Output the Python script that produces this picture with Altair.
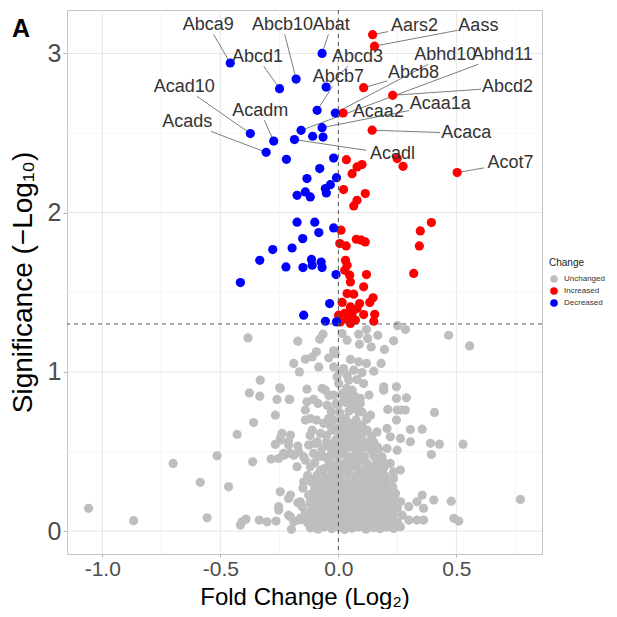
import altair as alt
import pandas as pd

# ---------------- data (Fold change log2, -log10 p) ----------------
gray_sparse = [
    (-0.383, 1.213), (-0.172, 1.193), (-0.189, 1.053), (-0.165, 1.0), (-0.14, 1.08), (-0.331, 0.948),
    (-0.377, 0.868), (-0.333, 0.847), (-0.249, 0.9), (-0.26, 0.827), (-0.208, 0.827), (-0.133, 0.891),
    (-0.133, 0.812), (-0.267, 0.728), (-0.359, 0.682), (-0.14, 0.697), (-0.429, 0.607), (-0.246, 0.582),
    (-0.267, 0.544), (-0.203, 0.603), (-0.172, 0.534), (-0.211, 0.561), (-0.514, 0.473), (-0.70, 0.425),
    (-0.363, 0.435), (-0.285, 0.452), (-0.253, 0.456), (-0.229, 0.477), (-0.203, 0.488), (-0.168, 0.498),
    (-0.14, 0.446), (-0.175, 0.404), (-0.585, 0.306), (-0.465, 0.278), (-0.147, 0.309), (-0.126, 0.226),
    (-0.211, 0.205), (-0.172, 0.178), (-0.154, 0.153), (-0.253, 0.153), (-0.253, 0.132), (-1.058, 0.143),
    (-0.867, 0.065), (-0.556, 0.083), (-0.415, 0.038), (-0.408, 0.058), (-0.391, 0.075), (-0.335, 0.069),
    (-0.302, 0.058), (-0.264, 0.063), (-0.203, 0.09), (-0.189, 0.058), (-0.168, 0.069), (-0.199, 0.011),
    (-0.154, 0.073),
]

gray_right = [
    (0.251, 1.29), (0.284, 1.266), (0.467, 1.23), (0.556, 1.163), (-0.079, 1.205), (-0.065, 1.237),
    (0.016, 1.241), (0.037, 1.199), (0.086, 1.237), (0.119, 1.266), (0.124, 1.21), (0.167, 1.23),
    (0.234, 1.195), (0.089, 1.174), (0.139, 1.157), (0.195, 1.141), (-0.02, 1.132), (-0.013, 1.115),
    (-0.093, 1.126), (-0.111, 1.094), (-0.041, 1.088), (-0.083, 1.031), (-0.02, 1.031), (0.051, 1.078),
    (0.086, 1.063), (0.119, 1.053), (0.181, 1.053), (0.022, 1.021), (0.037, 0.979), (0.065, 1.011),
    (-0.006, 0.969), (0.001, 0.927), (0.044, 0.948), (0.079, 0.952), (0.107, 0.927), (0.034, 0.896),
    (0.058, 0.885), (0.192, 0.906), (0.192, 0.885), (0.246, 0.906), (-0.246, 0.896), (-0.069, 0.896),
    (-0.055, 0.885), (-0.206, 0.827), (-0.105, 0.827), (-0.086, 0.802), (-0.048, 0.791), (-0.02, 0.854),
    (0.016, 0.864), (0.051, 0.854), (0.022, 0.822), (0.093, 0.833), (0.093, 0.802), (0.246, 0.833),
    (0.288, 0.837), (0.065, 0.77), (0.086, 0.749), (0.209, 0.764), (0.249, 0.76), (0.266, 0.76),
    (0.284, 0.76), (0.407, 0.745), (0.136, 0.728), (0.246, 0.697), (-0.119, 0.707), (-0.093, 0.697),
    (-0.062, 0.676), (-0.041, 0.707), (0.016, 0.676), (0.051, 0.676), (0.1, 0.665), (0.305, 0.638),
    (0.355, 0.64), (-0.239, 0.613), (-0.111, 0.634), (-0.076, 0.613), (-0.027, 0.634), (0.037, 0.634),
    (0.079, 0.613), (0.122, 0.634), (0.164, 0.623), (0.206, 0.645), (0.22, 0.592), (0.263, 0.582),
    (0.305, 0.561), (0.39, 0.551), (0.428, 0.546), (0.528, 0.546), (0.394, 0.481), (-0.246, 0.571),
    (-0.211, 0.54), (-0.126, 0.54), (-0.09, 0.561), (-0.048, 0.54), (-0.013, 0.571), (0.037, 0.571),
    (0.079, 0.551), (0.122, 0.529), (0.164, 0.529), (0.206, 0.519), (0.249, 0.508), (-0.232, 0.488),
    (-0.189, 0.477), (-0.147, 0.467), (-0.105, 0.488), (-0.062, 0.467), (-0.02, 0.477), (0.022, 0.488),
    (0.065, 0.467), (0.107, 0.467), (0.143, 0.498), (0.178, 0.456), (0.22, 0.425), (0.263, 0.383),
    (-0.119, 0.404), (-0.076, 0.383), (-0.034, 0.394), (0.022, 0.383), (0.065, 0.404), (0.107, 0.383),
    (0.15, 0.404), (0.192, 0.394), (0.234, 0.372), (-0.105, 0.32), (-0.062, 0.299), (-0.02, 0.32),
    (0.022, 0.299), (0.065, 0.309), (0.107, 0.299), (0.15, 0.32), (0.192, 0.309), (0.234, 0.331),
    (-0.246, 0.247), (-0.203, 0.226), (-0.161, 0.184), (-0.119, 0.215), (-0.076, 0.247), (-0.034, 0.237),
    (0.022, 0.237), (0.065, 0.247), (0.107, 0.226), (0.15, 0.258), (0.178, 0.341), (0.206, 0.278),
    (0.242, 0.237), (0.355, 0.226), (0.404, 0.195), (0.478, 0.188), (0.771, 0.199), (0.263, 0.184),
    (0.298, 0.153), (0.333, 0.184), (0.361, 0.143), (-0.211, 0.1), (-0.161, 0.08), (0.489, 0.08),
    (0.51, 0.063), (0.298, 0.069), (0.333, 0.069), (0.361, 0.069), (0.263, 0.027), (0.234, 0.017),
]

gray_blob = [
    (-0.118, 0.02), (-0.087, 0.012), (-0.061, 0.025), (-0.028, 0.015), (0.004, 0.022), (0.027, 0.01),
    (0.058, 0.018), (0.086, 0.026), (0.117, 0.012), (0.149, 0.021), (0.176, 0.015), (0.205, 0.024),
    (-0.105, 0.058), (-0.072, 0.05), (-0.045, 0.062), (-0.012, 0.052), (0.018, 0.06), (0.045, 0.048),
    (0.073, 0.057), (0.102, 0.064), (0.133, 0.05), (0.162, 0.059), (0.19, 0.053), (0.222, 0.061),
    (0.25, 0.055), (-0.125, 0.1), (-0.095, 0.108), (-0.063, 0.096), (-0.035, 0.104), (-0.005, 0.098),
    (0.028, 0.107), (0.055, 0.095), (0.085, 0.102), (0.115, 0.11), (0.143, 0.097), (0.17, 0.105),
    (0.201, 0.099), (0.235, 0.108), (0.27, 0.1), (-0.11, 0.152), (-0.08, 0.145), (-0.05, 0.156),
    (-0.02, 0.148), (0.012, 0.153), (0.04, 0.144), (0.068, 0.157), (0.097, 0.149), (0.128, 0.155),
    (0.156, 0.146), (0.185, 0.152), (0.215, 0.158), (0.25, 0.147), (-0.092, 0.198), (-0.06, 0.205),
    (-0.03, 0.196), (0.0, 0.203), (0.033, 0.194), (0.062, 0.201), (0.09, 0.208), (0.12, 0.197),
    (0.152, 0.204), (0.181, 0.195), (0.21, 0.2), (0.24, 0.206), (-0.1, 0.27), (-0.07, 0.262),
    (-0.04, 0.275), (-0.008, 0.266), (0.025, 0.272), (0.052, 0.263), (0.08, 0.277), (0.11, 0.268),
    (0.14, 0.274), (0.17, 0.265), (0.2, 0.271), (0.23, 0.279), (-0.09, 0.352), (-0.058, 0.345),
    (-0.025, 0.356), (0.005, 0.348), (0.038, 0.354), (0.07, 0.344), (0.1, 0.357), (0.13, 0.349),
    (0.165, 0.355), (0.2, 0.346), (-0.1, 0.43), (-0.04, 0.435), (-0.005, 0.426), (0.03, 0.432),
    (0.06, 0.424), (0.09, 0.437), (0.12, 0.428), (0.16, 0.434), (0.195, 0.427), (-0.07, 0.52),
    (-0.03, 0.514), (0.0, 0.525), (0.03, 0.517), (0.06, 0.523), (0.095, 0.512), (0.13, 0.521),
    (0.17, 0.516), (-0.05, 0.6), (0.0, 0.594), (0.02, 0.606), (0.055, 0.598), (0.1, 0.603),
    (0.14, 0.595), (-0.02, 0.7), (0.01, 0.694), (0.03, 0.706), (0.075, 0.698), (0.12, 0.703),
    (-0.01, 0.8), (0.0, 0.794), (0.035, 0.806), (0.06, 0.797), (-0.14, 0.76), (-0.12, 0.6),
    (-0.1, 0.55), (-0.13, 0.35), (-0.15, 0.27), (-0.14, 0.12), (-0.13, 0.05),
]

gray_blob_fill = [
    (-0.11, 0.082), (-0.078, 0.076), (-0.05, 0.085), (-0.02, 0.079), (0.01, 0.084), (0.04, 0.077),
    (0.07, 0.083), (0.1, 0.081), (0.13, 0.078), (0.16, 0.086), (0.19, 0.08), (0.22, 0.084),
    (-0.1, 0.127), (-0.07, 0.122), (-0.04, 0.13), (-0.01, 0.124), (0.02, 0.128), (0.05, 0.121),
    (0.08, 0.129), (0.11, 0.125), (0.14, 0.122), (0.17, 0.13), (0.2, 0.126), (0.23, 0.121),
    (-0.12, 0.176), (-0.075, 0.172), (-0.045, 0.179), (-0.015, 0.174), (0.02, 0.178), (0.05, 0.171),
    (0.08, 0.177), (0.11, 0.174), (0.14, 0.18), (0.17, 0.173), (0.2, 0.177), (0.23, 0.172),
    (-0.11, 0.236), (-0.078, 0.232), (-0.045, 0.239), (-0.015, 0.233), (0.015, 0.237), (0.045, 0.231),
    (0.075, 0.238), (0.105, 0.234), (0.135, 0.24), (0.165, 0.232), (0.195, 0.236), (0.225, 0.233),
    (-0.115, 0.31), (-0.08, 0.306), (-0.05, 0.313), (-0.02, 0.307), (0.01, 0.312), (0.04, 0.305),
    (0.07, 0.311), (0.1, 0.308), (0.13, 0.314), (0.165, 0.306), (0.2, 0.31),
    (-0.06, 0.392), (-0.02, 0.386), (0.01, 0.393), (0.045, 0.388), (0.08, 0.394), (0.115, 0.387),
    (0.15, 0.391), (0.18, 0.386), (-0.08, 0.471), (-0.04, 0.466), (0.0, 0.473), (0.04, 0.468),
    (0.075, 0.474), (0.11, 0.467), (0.15, 0.471), (0.185, 0.466), (-0.05, 0.561), (-0.015, 0.556),
    (0.015, 0.563), (0.045, 0.557), (0.08, 0.562), (0.115, 0.555), (0.15, 0.56), (-0.03, 0.652),
    (0.0, 0.647), (0.03, 0.654), (0.07, 0.648), (0.1, 0.653), (-0.03, 0.752), (0.005, 0.746),
    (0.045, 0.754), (0.1, 0.748), (-0.04, 0.852), (0.07, 0.846), (0.13, 0.854), (0.005, 1.002),
    (0.1, 0.996), (0.15, 1.004),
]

increased = [
    (0.145, 3.118), (0.153, 3.046), (0.107, 2.785), (0.23, 2.737), (0.02, 2.626), (0.143, 2.518),
    (0.034, 2.333), (0.1, 2.302), (0.079, 2.287), (0.058, 2.245), (0.249, 2.34), (0.274, 2.291),
    (0.503, 2.252), (0.022, 2.145), (0.114, 2.12), (0.079, 2.078), (0.065, 2.042), (0.394, 1.938),
    (0.347, 1.885), (0.343, 1.791), (0.319, 1.618), (0.011, 1.89), (0.076, 1.833), (0.097, 1.827),
    (0.114, 1.816), (0.006, 1.806), (0.033, 1.791), (0.03, 1.701), (0.037, 1.67), (0.027, 1.638),
    (0.048, 1.607), (0.051, 1.565), (0.119, 1.611), (0.107, 1.534), (0.037, 1.492), (0.065, 1.488),
    (0.147, 1.465), (0.133, 1.436), (0.016, 1.436), (0.09, 1.429), (0.051, 1.408), (0.079, 1.398),
    (0.027, 1.367), (0.058, 1.367), (0.001, 1.356), (0.107, 1.36), (0.154, 1.362), (0.037, 1.329),
    (0.072, 1.325), (0.15, 1.318), (0.008, 1.314), (0.051, 1.304),
]

decreased = [
    (-0.458, 2.94), (-0.069, 3.0), (-0.249, 2.779), (-0.179, 2.839), (-0.052, 2.789), (-0.09, 2.643),
    (-0.013, 2.626), (-0.373, 2.497), (-0.274, 2.45), (-0.306, 2.379), (-0.158, 2.517), (-0.186, 2.459),
    (-0.109, 2.48), (-0.069, 2.534), (-0.065, 2.475), (-0.22, 2.335), (-0.02, 2.343), (-0.079, 2.277),
    (-0.133, 2.214), (-0.008, 2.22), (-0.034, 2.176), (-0.055, 2.151), (-0.175, 2.109), (-0.14, 2.13),
    (-0.119, 2.099), (-0.051, 2.124), (-0.175, 1.94), (-0.1, 1.94), (-0.02, 1.904), (-0.083, 1.875),
    (-0.151, 1.837), (-0.196, 1.778), (-0.278, 1.768), (-0.333, 1.701), (-0.222, 1.659), (-0.15, 1.655),
    (-0.114, 1.706), (-0.111, 1.67), (-0.073, 1.69), (-0.069, 1.655), (-0.01, 1.611), (-0.037, 1.429),
    (-0.147, 1.356), (-0.055, 1.318), (-0.008, 1.314), (-0.415, 1.561),
]

genes = ["Abca9", "Abcb10", "Abat", "Aars2", "Aass", "Abcd1", "Abcd3", "Abhd10", "Abhd11", "Abcb7",
         "Abcb8", "Acad10", "Abcd2", "Acaa1a", "Acadm", "Acaa2", "Acads", "Acaca", "Acadl", "Acot7"]
gene_fc = [-0.458, -0.179, -0.069, 0.145, 0.153, -0.249, -0.052, -0.013, -0.158, -0.09,
           0.107, -0.373, 0.23, -0.069, -0.274, 0.02, -0.306, 0.143, -0.186, 0.503]
gene_sig = [2.94, 2.839, 3.0, 3.118, 3.046, 2.779, 2.789, 2.626, 2.517, 2.643,
            2.785, 2.497, 2.737, 2.534, 2.45, 2.626, 2.379, 2.518, 2.459, 2.252]
label_fc = [-0.551, -0.237, -0.03, 0.322, 0.593, -0.343, 0.081, 0.453, 0.695, 0.0,
            0.318, -0.653, 0.716, 0.432, -0.331, 0.169, -0.64, 0.542, 0.229, 0.729]
label_sig = [3.176, 3.176, 3.176, 3.17, 3.17, 2.976, 2.976, 2.988, 2.988, 2.85,
             2.875, 2.787, 2.787, 2.68, 2.637, 2.63, 2.567, 2.498, 2.367, 2.31]

grid_major_x = [-1.0, -0.5, 0.0, 0.5]
grid_minor_x = [-0.75, -0.25, 0.25, 0.75]
grid_major_y = [0, 1, 2, 3]
grid_minor_y = [0.5, 1.5, 2.5]
sig_threshold = 1.30103
fc_threshold = 0.0

# ---------------- layout ----------------
X_DOM = [-1.1495, 0.8625]
Y_DOM = [-0.144, 3.273]
W, H = 475, 544
FONT = "Liberation Sans"
LABEL_SIZE = 18

rows = []
for x, y in gray_sparse + gray_right + gray_blob + gray_blob_fill:
    rows.append({"fc": x, "sig": y, "Change": "Unchanged"})
for x, y in increased:
    rows.append({"fc": x, "sig": y, "Change": "Increased"})
for x, y in decreased:
    rows.append({"fc": x, "sig": y, "Change": "Decreased"})
pts = pd.DataFrame(rows)

# segments from label box edge to point (ggrepel style)
sx = W / (X_DOM[1] - X_DOM[0])
sy = H / (Y_DOM[1] - Y_DOM[0])
segs = []
for g, px, py, lx, ly in zip(genes, gene_fc, gene_sig, label_fc, label_sig):
    dxp = (px - lx) * sx
    dyp = (py - ly) * sy
    hw = len(g) * 0.28 * LABEL_SIZE + 1
    hh = 0.5 * LABEL_SIZE
    ts = []
    if abs(dxp) > 1e-9:
        ts.append(hw / abs(dxp))
    if abs(dyp) > 1e-9:
        ts.append(hh / abs(dyp))
    t = min(ts) if ts else 1
    length = ((dxp ** 2 + dyp ** 2) ** 0.5) * (1 - t) - 5
    if t < 1 and length > 8:
        segs.append({"x": lx + t * (px - lx), "y": ly + t * (py - ly), "x2": px, "y2": py})
seg_df = pd.DataFrame(segs)
lab_df = pd.DataFrame({"gene": genes, "fc": label_fc, "sig": label_sig})

xs = alt.Scale(domain=X_DOM, nice=False, zero=False)
ys = alt.Scale(domain=Y_DOM, nice=False, zero=False)

minus = "(datum.value < 0 ? '-' + format(-datum.value, '.1f') : format(datum.value, '.1f'))"
xaxis = alt.Axis(values=grid_major_x, labelExpr=minus, title="Fold Change (Log₂)", grid=False,
                 domain=False, tickColor="#b3b3b3", tickSize=3, labelFontSize=21, labelColor="#4d4d4d",
                 labelPadding=1, titleFontSize=24, titleFontWeight="normal", titleColor="#000000",
                 titleBaseline="alphabetic", titleY=50, labelFont=FONT, titleFont=FONT)
yaxis = alt.Axis(values=grid_major_y, format="d", title="Significance (−Log₁₀)", grid=False,
                 domain=False, tickColor="#b3b3b3", tickSize=4, labelFontSize=25, labelColor="#4d4d4d",
                 labelPadding=2, titleFontSize=28, titleFontWeight="normal", titleColor="#000000",
                 titleBaseline="middle", titleX=-44, labelFont=FONT, titleFont=FONT)

gmx = alt.Chart(pd.DataFrame({"v": grid_minor_x})).mark_rule(color="#f2f2f2", strokeWidth=0.8).encode(
    x=alt.X("v:Q", scale=xs, axis=xaxis))
gmy = alt.Chart(pd.DataFrame({"v": grid_minor_y})).mark_rule(color="#f2f2f2", strokeWidth=0.8).encode(
    y=alt.Y("v:Q", scale=ys, axis=yaxis))
gMx = alt.Chart(pd.DataFrame({"v": grid_major_x})).mark_rule(color="#e6e6e6", strokeWidth=1).encode(
    x=alt.X("v:Q", scale=xs))
gMy = alt.Chart(pd.DataFrame({"v": grid_major_y})).mark_rule(color="#e6e6e6", strokeWidth=1).encode(
    y=alt.Y("v:Q", scale=ys))

seg_layer = alt.Chart(seg_df).mark_rule(color="#5a5a5a", strokeWidth=0.8).encode(
    x=alt.X("x:Q", scale=xs), y=alt.Y("y:Q", scale=ys), x2="x2:Q", y2="y2:Q")

points = alt.Chart(pts).mark_circle(size=85, opacity=1).encode(
    x=alt.X("fc:Q", scale=xs),
    y=alt.Y("sig:Q", scale=ys),
    color=alt.Color("Change:N",
                    scale=alt.Scale(domain=["Unchanged", "Increased", "Decreased"],
                                    range=["#bebebe", "#ff0000", "#0000ff"]),
                    legend=alt.Legend(title="Change", orient="none", legendX=482, legendY=248,
                                      titleFontSize=10, titleFontWeight="normal", titleColor="#222222",
                                      labelFontSize=8, labelColor="#333333", symbolType="circle",
                                      symbolSize=58, rowPadding=3, titlePadding=6, labelOffset=5,
                                      labelLimit=60, labelFont=FONT, titleFont=FONT)),
    order=alt.Order("ord:Q"),
).transform_calculate(ord="datum.Change == 'Unchanged' ? 0 : 1")

hline = alt.Chart(pd.DataFrame({"v": [sig_threshold]})).mark_rule(
    color="#555555", strokeDash=[4, 4], strokeWidth=1).encode(y=alt.Y("v:Q", scale=ys))
vline = alt.Chart(pd.DataFrame({"v": [fc_threshold]})).mark_rule(
    color="#555555", strokeDash=[4, 4], strokeWidth=1).encode(x=alt.X("v:Q", scale=xs))

labels = alt.Chart(lab_df).mark_text(fontSize=LABEL_SIZE, font=FONT, color="#333333",
                                     align="center", baseline="middle").encode(
    x=alt.X("fc:Q", scale=xs), y=alt.Y("sig:Q", scale=ys), text="gene:N")

panel_tag = alt.Chart(pd.DataFrame({"t": ["A"]})).mark_text(
    fontSize=25, fontWeight="bold", font=FONT, color="#000000", align="left", baseline="middle").encode(
    x=alt.value(-55), y=alt.value(19), text="t:N")

chart = alt.layer(gmx, gmy, gMx, gMy, seg_layer, points, hline, vline, labels, panel_tag).properties(
    width=W, height=H,
    autosize=alt.AutoSizeParams(type="none"),
    padding={"left": 59, "top": 2, "right": 67, "bottom": 55},
).configure_view(stroke="#c4c4c4", strokeWidth=1).resolve_scale(x="shared", y="shared")

chart.save("out.html", embed_options={"renderer": "svg", "actions": False})
